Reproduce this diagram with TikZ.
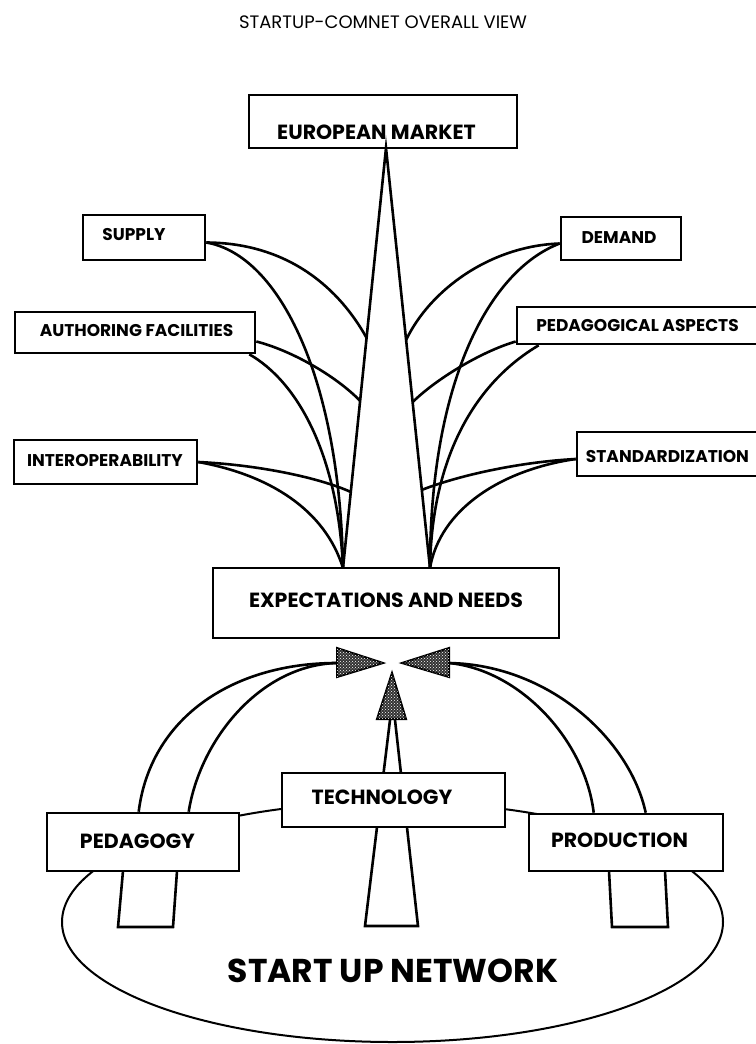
\documentclass[tikz,border=0pt]{standalone}
\usepackage{fontspec}
\usetikzlibrary{calc,shapes.geometric,patterns}
\newfontfamily\popfont{Poppins}
\tikzset{
  box/.style={draw, line width=2.6pt, fill=white, inner sep=0pt},
  lbl/.style={font=\popfont\bfseries\fontsize{17}{19}\selectfont, inner sep=0pt},
  mainlbl/.style={font=\popfont\bfseries\fontsize{20.5}{23}\selectfont, inner sep=0pt},
  ttl/.style={font=\popfont\fontsize{18}{20}\selectfont, inner sep=0pt},
  big/.style={font=\popfont\bfseries\fontsize{33}{36}\selectfont, inner sep=0pt},
  curve/.style={line width=2.6pt},
  ell/.style={line width=2pt},
  head/.style={draw, line width=2pt, fill=black!80, line join=miter,
    postaction={pattern=crosshatch dots, pattern color=white}},
}
\begin{document}
\begin{tikzpicture}[x=1pt, y=-1pt]
\useasboundingbox (0,0) rectangle (755,1044);

% title
\node[ttl] (title) at (383,22) {STARTUP-COMNET OVERALL VIEW};

% start up network ellipse and pillars
\node[draw, ell, ellipse, minimum width=661pt, minimum height=240pt, inner sep=0pt] (net) at (392.5,922) {};
\node[big] (nettxt) at (393,971) {START UP NETWORK};
\coordinate (tb1) at (365,926);
\coordinate (tb2) at (418,926);
\coordinate (tt1) at (390,720);
\coordinate (tt2) at (395,720);
\draw[curve, line join=miter] (tt1) -- (tb1) -- (tb2) -- (tt2);
\draw[curve, line join=miter] (123,871) -- (118,927) -- (173,927) -- (177,871);
\draw[curve, line join=miter] (609,871) -- (612,927) -- (668,927) -- (665,871);

% top triangle
\coordinate (apex) at (386,148);
\coordinate (bl) at (343,568);
\coordinate (br) at (430,568);
\coordinate (eL1) at ($(bl)!0.548!(apex)$);
\coordinate (eL2) at ($(bl)!0.398!(apex)$);
\coordinate (eL3) at ($(bl)!0.181!(apex)$);
\coordinate (eR1) at ($(br)!0.543!(apex)$);
\coordinate (eR2) at ($(br)!0.395!(apex)$);
\coordinate (eR3) at ($(br)!0.186!(apex)$);

% boxes (positions)
\node[box, minimum width=268pt, minimum height=53pt] (eu) at (383,121.5) {};
\node[box, minimum width=122pt, minimum height=45pt] (supply) at (144,237.5) {};
\node[box, minimum width=120pt, minimum height=43pt] (demand) at (621,238.5) {};
\node[box, minimum width=240pt, minimum height=41pt] (auth) at (135,332.5) {};
\node[box, minimum width=243pt, minimum height=37pt] (pedasp) at (638.5,325.5) {};
\node[box, minimum width=183pt, minimum height=44pt] (interop) at (105.5,462) {};
\node[box, minimum width=183pt, minimum height=44pt] (stand) at (668.5,454) {};

% left curves
\draw[curve] ([yshift=-5pt]supply.east) .. controls (290,243) and (340,290) .. (eL1);
\draw[curve] ([yshift=-5pt]supply.east) .. controls (280,255) and (340,380) .. (bl);
\draw[curve] ([yshift=-9pt]auth.east) .. controls (290,350) and (335,375) .. (eL2);
\draw[curve] ([xshift=-7pt]auth.south east) .. controls (298,382) and (338,455) .. (bl);
\draw[curve] (interop.east) .. controls (260,465) and (320,478) .. (eL3);
\draw[curve] (interop.east) .. controls (270,475) and (325,510) .. (bl);
% right curves
\draw[curve] ([yshift=-5pt]demand.west) .. controls (490,246) and (430,290) .. (eR1);
\draw[curve] ([yshift=-5pt]demand.west) .. controls (490,270) and (430,380) .. (br);
\draw[curve] ([yshift=-16pt]pedasp.west) .. controls (480,352) and (435,380) .. (eR2);
\draw[curve] ([xshift=23pt]pedasp.south west) .. controls (480,380) and (432,450) .. (br);
\draw[curve] ([yshift=-5pt]stand.west) .. controls (520,462) and (460,475) .. (eR3);
\draw[curve] ([yshift=-5pt]stand.west) .. controls (500,470) and (440,510) .. (br);

\draw[curve, line join=miter] (bl) -- (apex) -- (br);

\node[box, minimum width=346pt, minimum height=70pt] (exp) at (386,603) {};
\node[box, minimum width=223pt, minimum height=54pt] (tech) at (393.5,800) {};
\node[box, minimum width=192pt, minimum height=58pt] (ped) at (143,842) {};
\node[box, minimum width=194pt, minimum height=57pt] (prod) at (626,842.5) {};

% labels
\node[mainlbl] (eut) at (376.5,132.5) {EUROPEAN MARKET};
\node[lbl] (supt) at (134,235) {SUPPLY};
\node[lbl] (demt) at (619,238) {DEMAND};
\node[lbl] (autht) at (136.5,331) {AUTHORING FACILITIES};
\node[lbl] (pedaspt) at (637.5,326) {PEDAGOGICAL ASPECTS};
\node[lbl] (intt) at (105,461) {INTEROPERABILITY};
\node[lbl] (standt) at (667.5,457) {STANDARDIZATION};
\node[mainlbl] (expt) at (386,600) {EXPECTATIONS AND NEEDS};
\node[mainlbl] (techt) at (382,797) {TECHNOLOGY};
\node[mainlbl] (pedt) at (137.5,841) {PEDAGOGY};
\node[mainlbl] (prodt) at (619.5,840) {PRODUCTION};

% lower arrows
\coordinate (lab) at (337,663);
\coordinate (rab) at (449,663);
\draw[curve] (lab) .. controls (230,663) and (150,720) .. ([xshift=93pt]ped.north west);
\draw[curve] (lab) .. controls (260,665) and (200,740) .. ([xshift=143pt]ped.north west);
\draw[curve] (rab) .. controls (550,665) and (630,740) .. ([xshift=118pt]prod.north west);
\draw[curve] (rab) .. controls (520,670) and (585,740) .. ([xshift=66pt]prod.north west);

\draw[head] (337,648) -- (383,663) -- (337,677) -- cycle;
\draw[head] (449,648) -- (402,663) -- (449,677) -- cycle;
\draw[head] (377,719) -- (392,673) -- (406,719) -- cycle;
\end{tikzpicture}
\end{document}
